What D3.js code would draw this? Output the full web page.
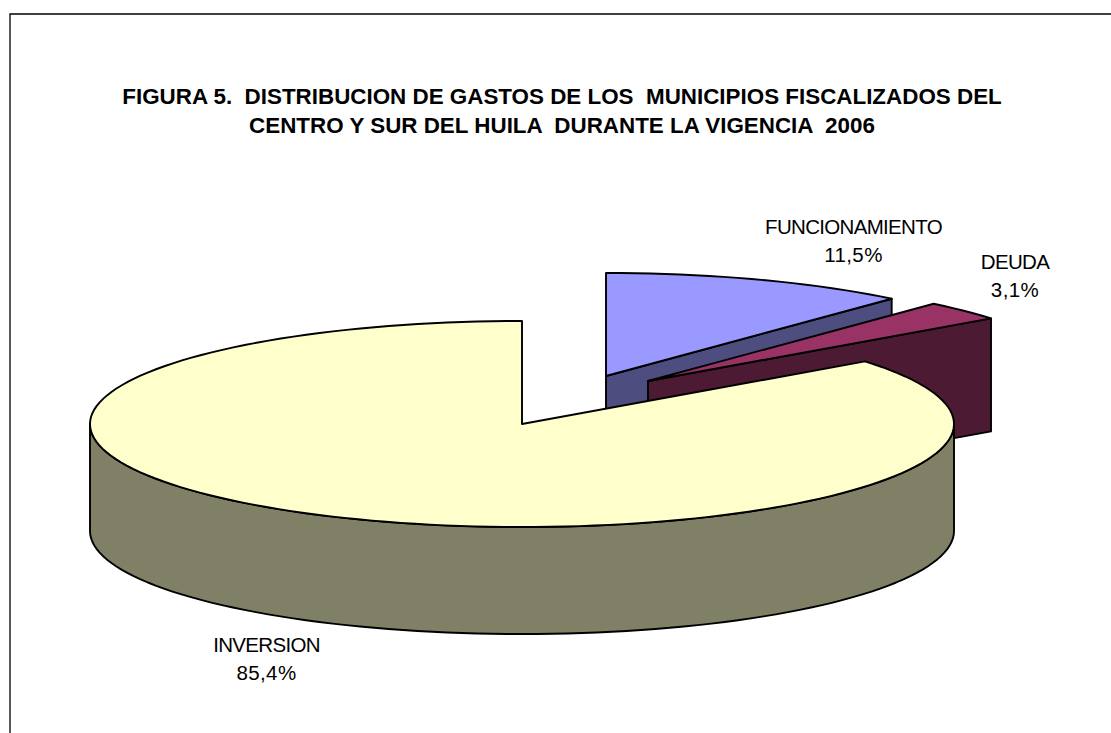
<!DOCTYPE html>
<html><head><meta charset="utf-8">
<script src="https://cdn.jsdelivr.net/npm/d3@7/dist/d3.min.js"></script>
<style>
html,body{margin:0;padding:0;background:#fff;overflow:hidden}
text{font-family:"Liberation Sans",Arial,sans-serif;white-space:pre;fill:#000}
</style></head><body>
<script>
const categories = ["FUNCIONAMIENTO", "DEUDA", "INVERSION"];
const shares = [11.5, 3.1, 85.4];
const shareLabels = ["11,5%", "3,1%", "85,4%"];
const topColors = ["#9999FF", "#993366", "#FFFFCC"];
const wallColors = ["#4D4D80", "#4D1A33", "#808066"];
const titleLines = [
  "FIGURA 5.  DISTRIBUCION DE GASTOS DE LOS  MUNICIPIOS FISCALIZADOS DEL",
  "CENTRO Y SUR DEL HUILA  DURANTE LA VIGENCIA  2006"
];

const W = 1111, H = 733;
const svg = d3.select("body").append("svg").attr("width", W).attr("height", H).style("display","block");

// chart frame (open at right and bottom, where the picture crops it)
svg.append("path").attr("d", `M10,${H}V14H${W}`).attr("fill","none").attr("stroke","#000").attr("stroke-width",1.3);

// title
svg.selectAll("text.title").data(titleLines).join("text").attr("class","title")
  .attr("x", 562).attr("y",(d,i)=>104+i*29).attr("text-anchor","middle")
  .attr("font-size",22.4).attr("font-weight","bold").attr("letter-spacing",0).text(d=>d);

// pie geometry
const rx = 432, ry = 103;
const depths = [107,113,107];
const offsets = [[606,376],[648,381],[522,424]];
const unitX = d3.scaleLinear().domain([-1,1]).range([-rx,rx]);
const unitY = d3.scaleLinear().domain([-1,1]).range([ry,-ry]);
const arcs = d3.pie().sort(null).value(d=>d)(shares);

const pt = (i,a,dz=0)=>[offsets[i][0]+unitX(Math.sin(a)), offsets[i][1]+unitY(Math.cos(a))+dz];
const sample = (i,a0,a1,dz=0)=>{
  const n = Math.max(2,Math.ceil(Math.abs(a1-a0)/(Math.PI/90)));
  return d3.range(n+1).map(k=>pt(i,a0+(a1-a0)*k/n,dz));
};
const line = d3.line();
const stroke = sel=>sel.attr("stroke","#000").attr("stroke-width",1.9).attr("stroke-linejoin","round");

arcs.forEach((arc,i)=>{
  const g = svg.append("g").attr("class","slice");
  const [cx,cy] = offsets[i];
  const depth = depths[i];
  if (i < 2) {
    // cut face along the end radius, seen from the front
    const e = pt(i,arc.endAngle);
    g.append("path").attr("d", line([[cx,cy],e,[e[0],e[1]+depth],[cx,cy+depth]])+"Z")
      .attr("fill",wallColors[i]).call(stroke);
  } else {
    // outer rim, visible on the front half
    const a0 = Math.PI/2, a1 = 3*Math.PI/2;
    const pts = sample(i,a0,a1).concat(sample(i,a1,a0,depth));
    g.append("path").attr("d", line(pts)+"Z").attr("fill",wallColors[i]).call(stroke);
  }
  const top = [[cx,cy]].concat(sample(i,arc.startAngle,arc.endAngle));
  g.append("path").attr("d", line(top)+"Z").attr("fill",topColors[i]).call(stroke);
});

// data labels
const labelPos = [[853.5,234],[1015,269],[266.5,652]];
categories.forEach((c,i)=>{
  const t = svg.append("text").attr("text-anchor","middle").attr("font-size",20.5).attr("letter-spacing",-0.68);
  t.append("tspan").attr("x",labelPos[i][0]).attr("y",labelPos[i][1]).text(c);
  t.append("tspan").attr("x",labelPos[i][0]).attr("y",labelPos[i][1]+28).attr("letter-spacing",0.4).text(shareLabels[i]);
});
</script>
</body></html>
